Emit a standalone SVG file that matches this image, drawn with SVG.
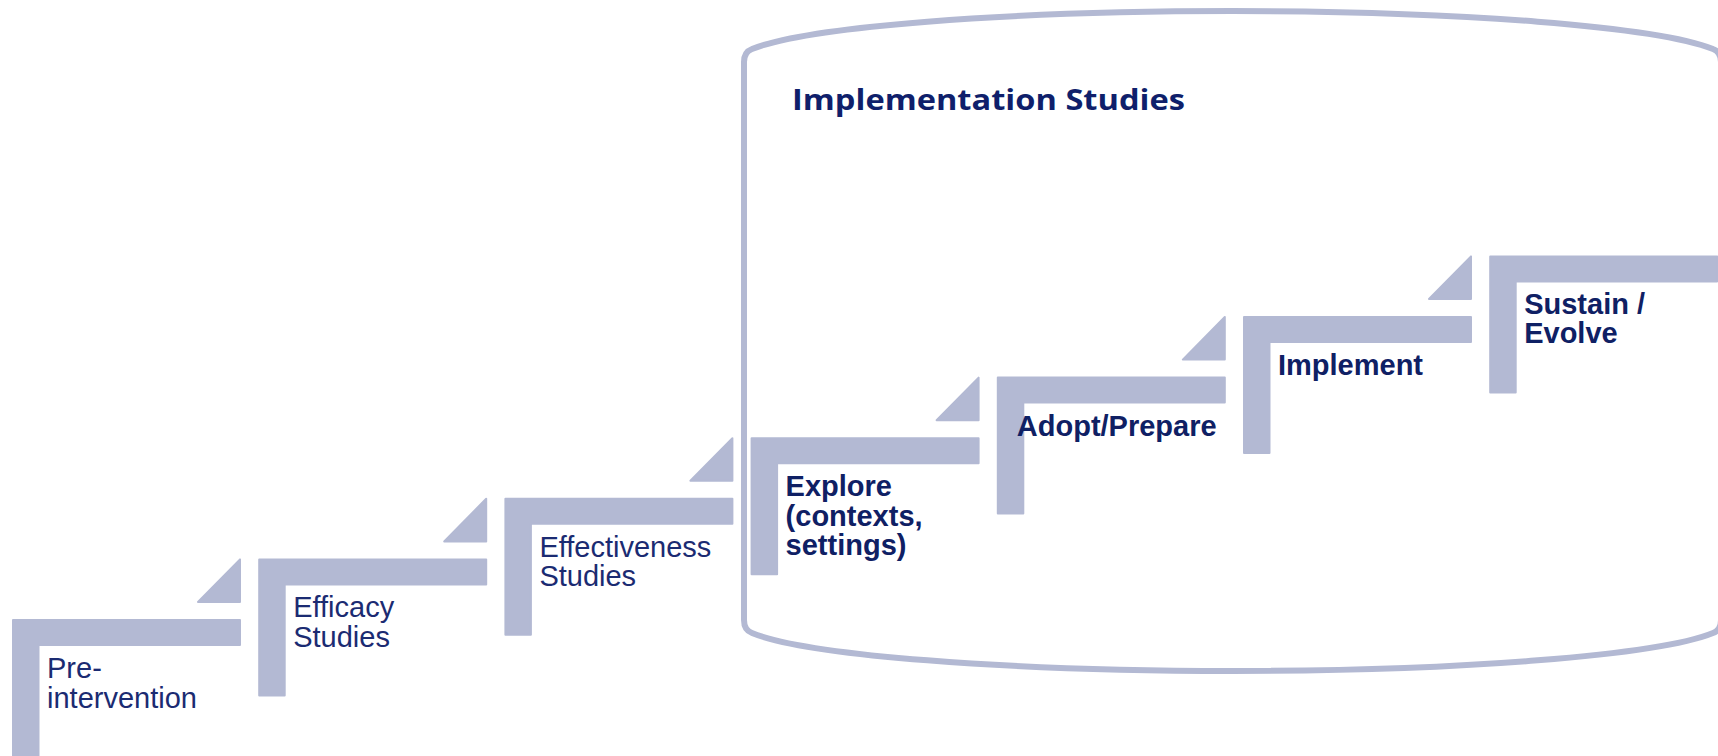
<svg xmlns="http://www.w3.org/2000/svg" width="1718" height="756" viewBox="0 0 1718 756">
  <style>
    .step { fill: #b3b9d3; stroke: #b3b9d3; stroke-width: 2; stroke-linejoin: round; }
    .tri { fill: #b3b9d3; stroke: #b3b9d3; stroke-width: 2; stroke-linejoin: round; }
    .frame { fill: none; stroke: #b3b9d3; stroke-width: 6; stroke-linejoin: round; }
    .lbl { font-family: "Liberation Sans", Arial, sans-serif; font-size: 29px; fill: #1b2b72; }
    .lblb { font-family: "Liberation Sans", Arial, sans-serif; font-size: 29px; font-weight: bold; fill: #0f2064; }
    .title { font-family: "Open Sans", "Liberation Sans", sans-serif; font-size: 29px; font-weight: bold; fill: #0f1f6b; }
  </style>
  <rect width="1718" height="756" fill="#ffffff"/>

  <g id="implementation-container">
    <path class="frame" d="M 744,620 L 744,62 Q 744,52 752,49 A 495 50 0 0 1 1713,49 Q 1721,52 1721,62 L 1721,620 Q 1721,630 1713,633 A 495 50 0 0 1 752,633 Q 744,630 744,620 Z"/>
    <text class="title" x="792" y="110" textLength="393" lengthAdjust="spacingAndGlyphs">Implementation Studies</text>
  </g>

  <g id="connectors">
    <path class="tri" d="M 240,559.4 L 240,602 L 198,602 Z"/>
    <path class="tri" d="M 486.2,498.8 L 486.2,541.4 L 444.2,541.4 Z"/>
    <path class="tri" d="M 732.4,438.2 L 732.4,480.8 L 690.4,480.8 Z"/>
    <path class="tri" d="M 978.6,377.6 L 978.6,420.2 L 936.6,420.2 Z"/>
    <path class="tri" d="M 1224.8,317 L 1224.8,359.6 L 1182.8,359.6 Z"/>
    <path class="tri" d="M 1471,256.4 L 1471,299 L 1429,299 Z"/>
  </g>

  <g id="pre-intervention">
    <path class="step" d="M 13,620 H 240 V 645 H 38.5 V 758 H 13 Z"/>
    <text class="lbl" x="47" y="678">Pre-</text>
    <text class="lbl" x="47" y="707.5">intervention</text>
  </g>

  <g id="efficacy-studies">
    <path class="step" d="M 259.2,559.4 H 486.2 V 584.4 H 284.7 V 695.4 H 259.2 Z"/>
    <text class="lbl" x="293.2" y="617.4">Efficacy</text>
    <text class="lbl" x="293.2" y="646.9">Studies</text>
  </g>

  <g id="effectiveness-studies">
    <path class="step" d="M 505.4,498.8 H 732.4 V 523.8 H 530.9 V 634.8 H 505.4 Z"/>
    <text class="lbl" x="539.4" y="556.8">Effectiveness</text>
    <text class="lbl" x="539.4" y="586.3">Studies</text>
  </g>

  <g id="explore">
    <path class="step" d="M 751.6,438.2 H 978.6 V 463.2 H 777.1 V 574.2 H 751.6 Z"/>
    <text class="lblb" x="785.6" y="496">Explore</text>
    <text class="lblb" x="785.6" y="525.5">(contexts,</text>
    <text class="lblb" x="785.6" y="555">settings)</text>
  </g>

  <g id="adopt-prepare">
    <path class="step" d="M 997.8,377.6 H 1224.8 V 402.6 H 1023.3 V 513.6 H 997.8 Z"/>
    <text class="lblb" x="1016.8" y="435.6">Adopt/Prepare</text>
  </g>

  <g id="implement">
    <path class="step" d="M 1244,317 H 1471 V 342 H 1269.5 V 453 H 1244 Z"/>
    <text class="lblb" x="1278" y="375">Implement</text>
  </g>

  <g id="sustain-evolve">
    <path class="step" d="M 1490.2,256.4 H 1717.2 V 281.4 H 1515.7 V 392.4 H 1490.2 Z"/>
    <text class="lblb" x="1524.2" y="314.4">Sustain /</text>
    <text class="lblb" x="1524.2" y="343.4">Evolve</text>
  </g>
</svg>
